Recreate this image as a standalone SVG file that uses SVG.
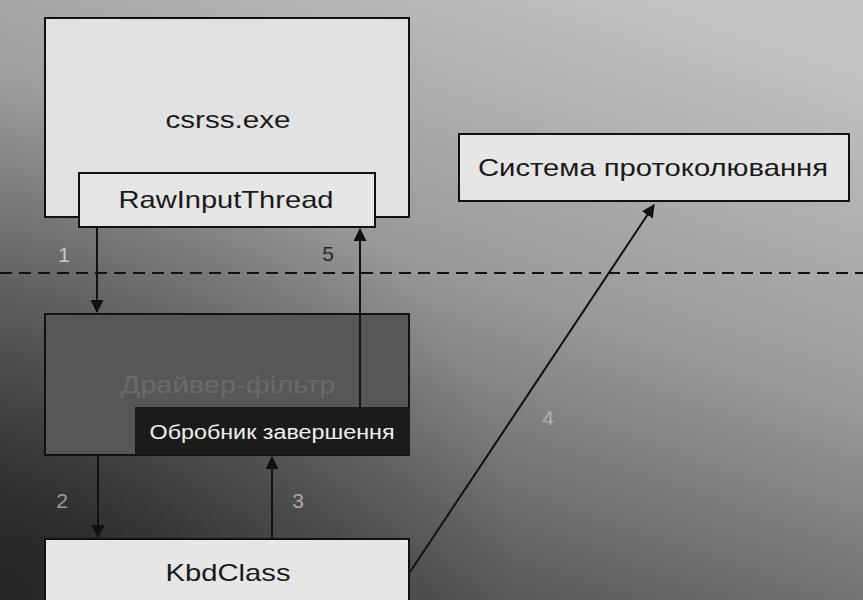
<svg xmlns="http://www.w3.org/2000/svg" width="863" height="600" viewBox="0 0 863 600">
<defs>
<linearGradient id="bg" x1="0.75" y1="0" x2="0.25" y2="1">
<stop offset="0" stop-color="#c2c2c2"/>
<stop offset="0.45" stop-color="#999"/>
<stop offset="1" stop-color="#444"/>
</linearGradient>
<radialGradient id="lft" cx="0" cy="600" r="520" gradientUnits="userSpaceOnUse">
<stop offset="0" stop-color="#000" stop-opacity="0.45"/>
<stop offset="1" stop-color="#000" stop-opacity="0"/>
</radialGradient>
<marker id="ah" viewBox="0 0 12 12" refX="11" refY="6" markerWidth="13" markerHeight="13" markerUnits="userSpaceOnUse" orient="auto">
<path d="M0,0 L12,6 L0,12 z" fill="#111"/>
</marker>
<style>
.box{stroke:#111;stroke-width:2}
.t{font-family:"Liberation Sans",Arial,sans-serif;font-size:24px;fill:#1a1a1a;text-anchor:middle}
.c{stroke:#111;stroke-width:2;fill:none;marker-end:url(#ah)}
.lbl{font-family:"Liberation Sans",Arial,sans-serif;font-size:21px;text-anchor:middle}
</style>
</defs>
<rect width="863" height="600" fill="url(#bg)"/>
<rect width="863" height="600" fill="url(#lft)"/>
<line x1="0" y1="273" x2="863" y2="273" stroke="#111" stroke-width="2" stroke-dasharray="12,7"/>
<g id="csrss">
<rect class="box" x="45" y="18" width="364" height="199" fill="#e2e2e2"/>
<text class="t" x="228" y="128" textLength="125" lengthAdjust="spacingAndGlyphs">csrss.exe</text>
</g>
<g id="rawinput">
<rect class="box" x="79" y="173" width="296" height="54" fill="#e6e6e6"/>
<text class="t" x="226" y="208" textLength="215" lengthAdjust="spacingAndGlyphs">RawInputThread</text>
</g>
<g id="filter">
<rect class="box" x="45" y="314" width="364" height="141" fill="#575757"/>
<text class="t" x="228" y="393" style="fill:#6a6a6a" textLength="215" lengthAdjust="spacingAndGlyphs">Драйвер-фільтр</text>
</g>
<g id="completion">
<rect x="135" y="407" width="275" height="48" fill="#1b1b1b"/>
<text class="t" x="272" y="439" style="fill:#f0f0f0;font-size:20px" textLength="245" lengthAdjust="spacingAndGlyphs">Обробник завершення</text>
</g>
<g id="kbdclass">
<rect class="box" x="45" y="539" width="364" height="70" fill="#e6e6e6"/>
<text class="t" x="228" y="581" textLength="125" lengthAdjust="spacingAndGlyphs">KbdClass</text>
</g>
<g id="logging">
<rect class="box" x="459" y="134" width="390" height="67" fill="#e6e6e6"/>
<text class="t" x="653" y="176" textLength="350" lengthAdjust="spacingAndGlyphs">Система протоколювання</text>
</g>
<g id="connectors">
<line class="c" x1="97" y1="228" x2="97" y2="312"/>
<line class="c" x1="360" y1="407" x2="360" y2="229"/>
<line class="c" x1="98" y1="456" x2="98" y2="537"/>
<line class="c" x1="272" y1="538" x2="272" y2="457"/>
<line class="c" x1="410" y1="572" x2="654" y2="205"/>
<text class="lbl" x="64" y="262" fill="#c8c8c8">1</text>
<text class="lbl" x="62" y="508" fill="#9a9a9a">2</text>
<text class="lbl" x="298" y="508" fill="#a8a8a8">3</text>
<text class="lbl" x="548" y="425" fill="#b0b0b0">4</text>
<text class="lbl" x="328" y="261" fill="#2a2a2a">5</text>
</g>
</svg>
